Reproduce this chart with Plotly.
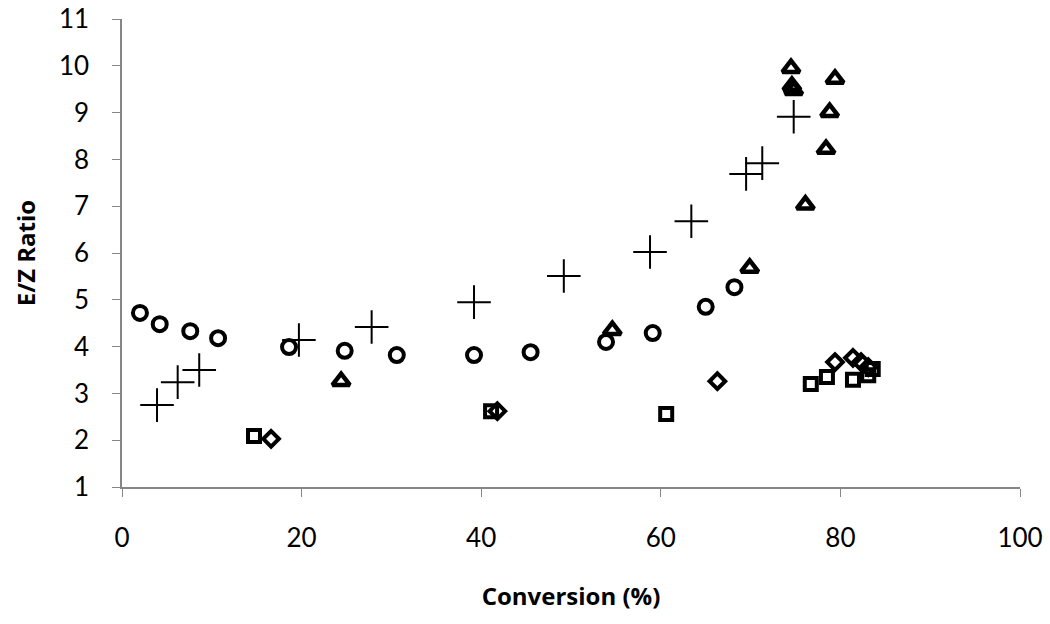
import plotly.graph_objects as go

# circles
circ_x = [2.0, 4.2, 7.6, 10.7, 18.6, 24.8, 30.6, 39.2, 45.5, 53.9, 59.1, 65.0, 68.2]
circ_y = [4.72, 4.48, 4.33, 4.18, 3.99, 3.91, 3.82, 3.82, 3.88, 4.10, 4.29, 4.85, 5.27]

# crosses
plus_x = [3.9, 6.2, 8.6, 19.7, 27.8, 39.2, 49.2, 58.8, 63.4, 69.5, 71.3, 74.8]
plus_y = [2.75, 3.24, 3.50, 4.14, 4.42, 4.95, 5.51, 6.02, 6.68, 7.69, 7.92, 8.91]

# triangles
tri_x = [24.4, 54.6, 69.9, 76.1, 78.4, 78.8, 79.4, 74.5, 74.6, 74.8]
tri_y = [3.26, 4.35, 5.68, 7.03, 8.22, 9.01, 9.72, 9.95, 9.57, 9.48]

# diamonds
dia_x = [16.6, 41.8, 66.3, 79.4, 81.4, 82.3, 83.1]
dia_y = [2.03, 2.62, 3.26, 3.67, 3.76, 3.67, 3.56]

# squares
sq_x = [14.7, 41.1, 60.6, 76.7, 78.5, 81.4, 83.1, 83.6]
sq_y = [2.09, 2.62, 2.56, 3.20, 3.35, 3.29, 3.39, 3.52]

fig = go.Figure()

def add(x, y, sym, size, lw):
    fig.add_scatter(x=x, y=y, mode="markers",
                    marker=dict(symbol=sym, size=size, color="black",
                                line=dict(color="black", width=lw)))

add(circ_x, circ_y, "circle-open", 14, 4)
add(plus_x, plus_y, "cross-thin-open", 24, 2)
add(tri_x, tri_y, "triangle-up-open", 15, 4.5)
add(dia_x, dia_y, "diamond-open", 12, 4)
add(sq_x, sq_y, "square-open", 12, 4)

axis_font = dict(family="Lato, Open Sans, sans-serif", size=26, color="black")
title_font = dict(family="Open Sans, Lato, sans-serif", size=24, color="black")

fig.update_xaxes(range=[0, 100], dtick=20, tick0=0, showgrid=False, zeroline=False,
                 showline=True, linecolor="#868686", linewidth=1.5,
                 ticks="outside", ticklen=8, tickcolor="#868686", automargin=False,
                 tickfont=axis_font, ticklabelstandoff=19,
                 title=dict(text="<b>Conversion (%)</b>", font=title_font, standoff=36))
fig.update_yaxes(range=[1, 11], dtick=1, tick0=1, showgrid=False, zeroline=False,
                 showline=True, linecolor="#868686", linewidth=1.5,
                 ticks="outside", ticklen=8, tickcolor="#868686", automargin=False,
                 tickfont=axis_font, ticklabelstandoff=18, ticklabeloverflow="allow",
                 title=dict(text="<b>E/Z Ratio</b>", font=title_font, standoff=16))

fig.update_layout(width=1050, height=624, showlegend=False,
                  plot_bgcolor="white", paper_bgcolor="white",
                  margin=dict(l=122, r=30, t=19, b=137))

# drop the default 8px body margin so the figure sits at the page corner
fig.write_html("out.html", config={"displayModeBar": False},
               post_script="document.body.style.margin='0';")
